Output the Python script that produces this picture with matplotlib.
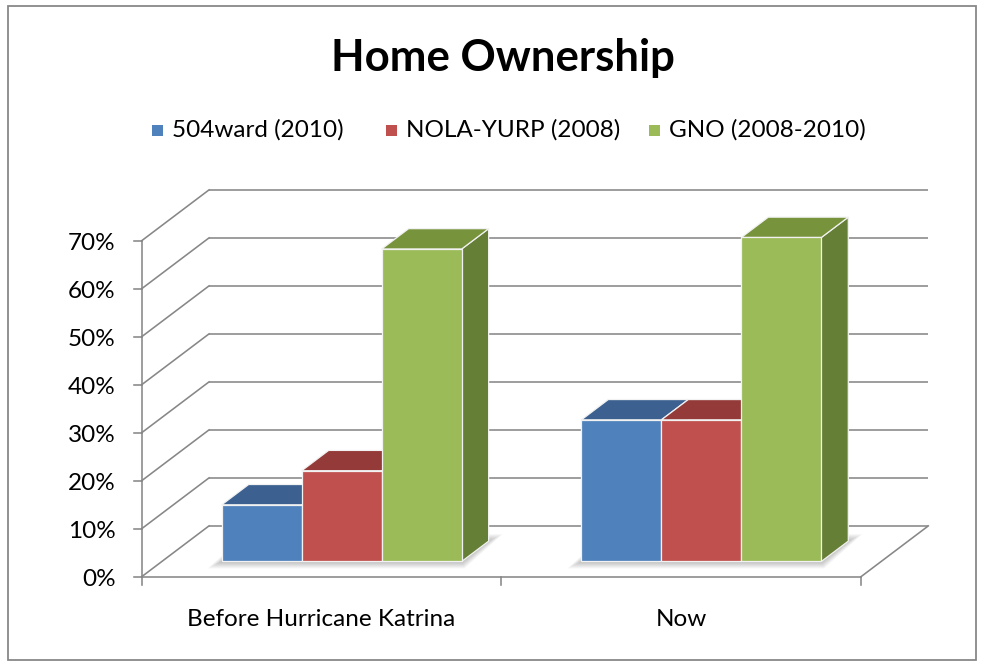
import matplotlib
matplotlib.use("Agg")
import matplotlib.pyplot as plt
from matplotlib.patches import Polygon, Rectangle
import numpy as np

plt.rcParams['font.family'] = ['Lato', 'DejaVu Sans']

# ---- data ----
title = "Home Ownership"
categories = ["Before Hurricane Katrina", "Now"]
series_names = ["504ward (2010)", "NOLA-YURP (2008)", "GNO (2008-2010)"]
ward504 = [11.8, 29.5]
nola_yurp = [18.9, 29.5]
gno = [65.1, 67.5]
y_ticks = [0, 10, 20, 30, 40, 50, 60, 70]
y_tick_labels = ["0%", "10%", "20%", "30%", "40%", "50%", "60%", "70%"]

front_colors = ["#4F81BD", "#C0504D", "#9BBB59"]
top_colors = ["#3C6190", "#943B39", "#77933C"]
side_colors = ["#385D8A", "#8C3836", "#667F36"]
grid_color = "#878787"

# ---- figure / projection setup ----
W, H = 984, 666
fig = plt.figure(figsize=(W / 100, H / 100), dpi=100)
ax = fig.add_axes([0, 0, 1, 1])
ax.set_axis_off()

PX = 359.65   # pixels per category unit
PY = 4.8      # pixels per percent
x0_px, y0_px = 141.7, 576.7
ax.set_xlim(-x0_px / PX, (W - x0_px) / PX)
ax.set_ylim(-(H - y0_px) / PY, y0_px / PY)

DX = 67.3 / PX        # full depth offset in x
DY = 50.8 / PY        # full depth offset in y
n_cat = len(categories)

# back wall gridlines and left wall diagonals
for t in y_ticks:
    ax.plot([DX, n_cat + DX], [t + DY, t + DY], color=grid_color, lw=1.15, zorder=1,
            solid_capstyle='butt')
    ax.plot([0, DX], [t, t + DY], color=grid_color, lw=1.15, zorder=1)
# floor edges
ax.plot([0, n_cat], [0, 0], color=grid_color, lw=1.15, zorder=1)
ax.plot([n_cat, n_cat + DX], [0, DY], color=grid_color, lw=1.15, zorder=1)
# vertical axis line
ax.plot([0, 0], [0, y_ticks[-1]], color=grid_color, lw=1.15, zorder=1)
# ticks
for t in y_ticks:
    ax.plot([-8 / PX, 0], [t, t], color=grid_color, lw=1.15, zorder=1)
for c in range(n_cat + 1):
    ax.plot([c, c], [0, -8 / PY], color=grid_color, lw=1.15, zorder=1)

FS = 17.5
# tick labels
for t, lab in zip(y_ticks, y_tick_labels):
    ax.text(-26 / PX, t - 0.6, lab, ha='right', va='center', fontsize=FS, color='black')
for i, cat in enumerate(categories):
    ax.text(i + 0.5, -43 / PY, cat, ha='center', va='center', fontsize=FS, color='black')

# ---- bars ----
bar_w = 80 / PX
d_front = 0.3
d_bar = 0.4
bx = d_front * DX
by = d_front * DY
ddx = d_bar * DX
ddy = d_bar * DY
series = [ward504, nola_yurp, gno]
offsets = [-bar_w, 0.0, bar_w]
centers = np.arange(n_cat) + 0.5 + bx

# soft shadows on the floor under each group
for ci in range(n_cat):
    gx0 = centers[ci] - 1.5 * bar_w
    gx1 = centers[ci] + 1.5 * bar_w
    for k, e in enumerate(np.linspace(14, 2, 7)):
        ex = e / PX
        ey = e / PY * 0.5
        poly = [(gx0 - ex, by - ey), (gx1 + ex * 0.2, by - ey),
                (gx1 + ddx + ex, by + ddy + ey), (gx0 + ddx - ex * 0.2, by + ddy + ey)]
        ax.add_patch(Polygon(poly, closed=True, facecolor='#000000', edgecolor='none',
                             alpha=0.035, zorder=2))

z = 3
for ci in range(n_cat):
    for si, (vals, off) in enumerate(zip(series, offsets)):
        v = vals[ci]
        xc = centers[ci] + off
        ax.bar([xc], [v], width=bar_w, bottom=by, color=front_colors[si],
               edgecolor='#F2F2F2', linewidth=0.9, zorder=z + 2)
        xl = xc - bar_w / 2
        xr = xc + bar_w / 2
        top = by + v
        top_poly = [(xl, top), (xr, top), (xr + ddx, top + ddy), (xl + ddx, top + ddy)]
        side_poly = [(xr, by), (xr, top), (xr + ddx, top + ddy), (xr + ddx, by + ddy)]
        ax.add_patch(Polygon(side_poly, closed=True, facecolor=side_colors[si],
                             edgecolor='#F2F2F2', linewidth=0.9, zorder=z))
        ax.add_patch(Polygon(top_poly, closed=True, facecolor=top_colors[si],
                             edgecolor='#F2F2F2', linewidth=0.9, zorder=z + 1))
        z += 3

# ---- title ----
fig.text(503 / W, 1 - 58 / H, title, ha='center', va='center', fontsize=31.5,
         fontweight='bold', color='black')

# ---- legend ----
leg_sq_x = [152, 386, 649]
leg_tx_x = [172, 406, 669]
leg_y = 130
for name, col, sx, tx in zip(series_names, front_colors, leg_sq_x, leg_tx_x):
    fig.patches.append(Rectangle((sx / W, 1 - (leg_y + 6) / H), 11 / W, 11 / H,
                                 transform=fig.transFigure, facecolor=col,
                                 edgecolor='none'))
    fig.text(tx / W, 1 - leg_y / H, name, ha='left', va='center', fontsize=FS,
             color='black')

# ---- chart border ----
fig.patches.append(Rectangle((8 / W, 1 - 660 / H), 968 / W, 654 / H,
                             transform=fig.transFigure, facecolor='none',
                             edgecolor='#888888', linewidth=1.3))

fig.savefig("out.png", dpi=100)
